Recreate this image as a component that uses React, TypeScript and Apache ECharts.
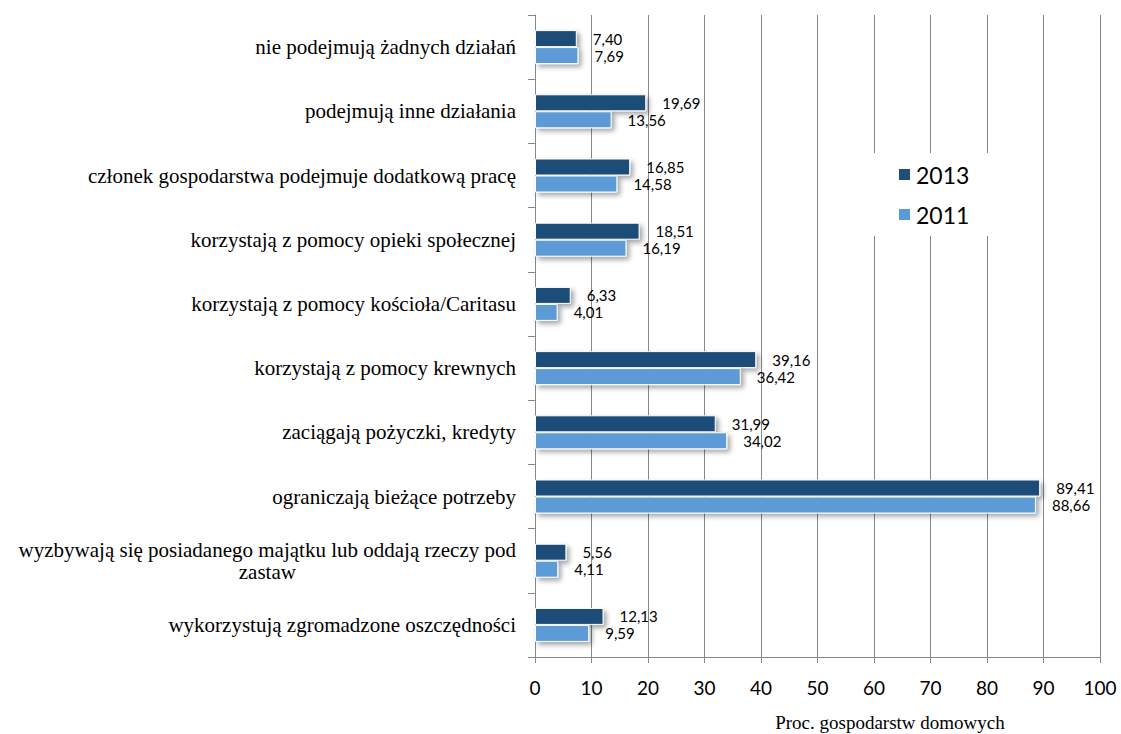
import React, { useEffect, useRef } from "react";
import * as echarts from "echarts";

const LONG_CAT = "wyzbywają się posiadanego majątku lub oddają rzeczy pod zastaw";
const categories = [
  "nie podejmują żadnych działań",
  "podejmują inne działania",
  "członek gospodarstwa podejmuje dodatkową pracę",
  "korzystają z pomocy opieki społecznej",
  "korzystają z pomocy kościoła/Caritasu",
  "korzystają z pomocy krewnych",
  "zaciągają pożyczki, kredyty",
  "ograniczają bieżące potrzeby",
  LONG_CAT,
  "wykorzystują zgromadzone oszczędności",
];
const values2013 = [7.4, 19.69, 16.85, 18.51, 6.33, 39.16, 31.99, 89.41, 5.56, 12.13];
const values2011 = [7.69, 13.56, 14.58, 16.19, 4.01, 36.42, 34.02, 88.66, 4.11, 9.59];
const seriesNames = ["2013", "2011"];
const xTicks = { min: 0, max: 100, interval: 10 };
const axisName = "Proc. gospodarstw domowych";

const DARK = "#1F4E79";
const LIGHT = "#5B9BD5";
const SERIF = "Liberation Serif";
const SANS = "Lato";

export default function App() {
  const ref = useRef<HTMLDivElement>(null);
  useEffect(() => {
    if (!ref.current) return;
    const chart = echarts.init(ref.current, null, { renderer: "svg" });
    const fmt = (p: any) => Number(p.value).toFixed(2).replace(".", ",");
    const barStyle = (color: string) => ({
      color,
      borderColor: "#ffffff",
      borderWidth: 1,
      shadowBlur: 5,
      shadowColor: "rgba(0,0,0,0.35)",
      shadowOffsetX: 3,
      shadowOffsetY: 3,
    });
    const label = {
      show: true,
      position: "right",
      distance: 16,
      formatter: fmt,
      color: "#000",
      fontFamily: SANS,
      fontSize: 15,
    };
    chart.setOption({
      animation: false,
      backgroundColor: "#ffffff",
      grid: { left: 535, right: 21, top: 15, bottom: 77, containLabel: false },
      legend: {
        orient: "vertical",
        left: 870,
        top: 153,
        padding: [10, 65, 10, 27],
        backgroundColor: "#ffffff",
        itemWidth: 13,
        itemHeight: 13,
        itemGap: 17,
        icon: "rect",
        textStyle: { fontFamily: SANS, fontSize: 23, color: "#000", lineHeight: 23 },
        data: seriesNames,
      },
      xAxis: {
        type: "value",
        min: xTicks.min,
        max: xTicks.max,
        interval: xTicks.interval,
        axisLine: { show: true, lineStyle: { color: "#888", width: 1 } },
        axisTick: { show: true, length: 6, lineStyle: { color: "#888" } },
        splitLine: { show: true, lineStyle: { color: "#888", width: 1 } },
        axisLabel: { color: "#000", fontFamily: SANS, fontSize: 19, margin: 21 },
      },
      yAxis: {
        type: "category",
        inverse: true,
        data: categories,
        axisLine: { show: true, lineStyle: { color: "#888", width: 1 } },
        axisTick: { show: true, length: 7, lineStyle: { color: "#888" } },
        axisLabel: {
          interval: 0,
          margin: 19,
          color: "#000",
          fontFamily: SERIF,
          fontSize: 21,
          formatter: (v: string) =>
            v === LONG_CAT
              ? "{l|wyzbywają się posiadanego majątku lub oddają rzeczy pod}\n{c|zastaw}"
              : v,
          rich: {
            l: { fontFamily: SERIF, fontSize: 21, color: "#000", lineHeight: 22 },
            c: { fontFamily: SERIF, fontSize: 21, color: "#000", lineHeight: 22, align: "center" },
          },
        },
      },
      graphic: [
        {
          type: "text",
          x: 890,
          y: 722,
          silent: true,
          style: {
            text: axisName,
            font: `19px "Liberation Serif"`,
            fill: "#000",
            textAlign: "center",
            textVerticalAlign: "middle",
          },
        },
      ],
      series: [
        {
          name: seriesNames[0],
          type: "bar",
          data: values2013,
          barWidth: 17,
          barGap: "0%",
          itemStyle: barStyle(DARK),
          label,
        },
        {
          name: seriesNames[1],
          type: "bar",
          data: values2011,
          barWidth: 17,
          barGap: "0%",
          itemStyle: barStyle(LIGHT),
          label,
        },
      ],
    });
    return () => chart.dispose();
  }, []);
  return (
    <div
      ref={ref}
      style={{ position: "fixed", left: 0, top: 0, width: 1121, height: 734 }}
    />
  );
}
